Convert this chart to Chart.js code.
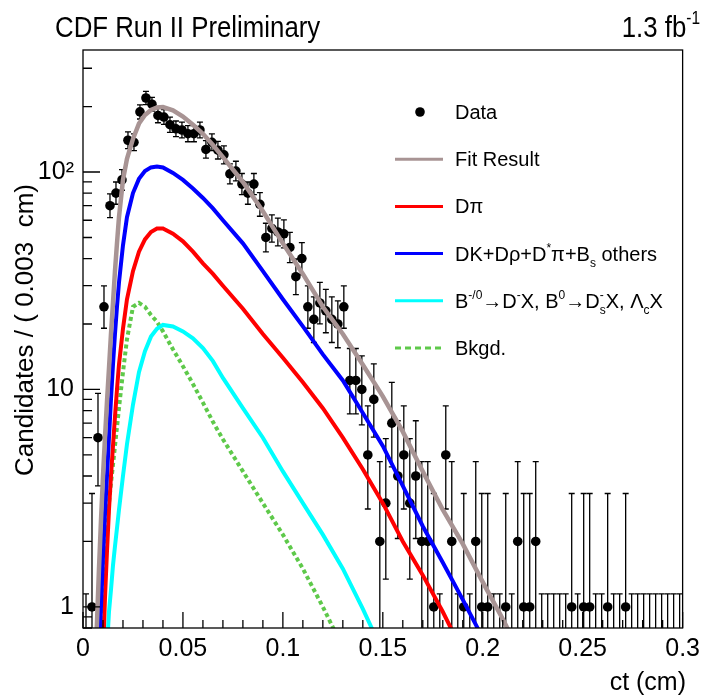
<!DOCTYPE html>
<html>
<head>
<meta charset="utf-8">
<script src="https://cdn.jsdelivr.net/npm/chart.js@4.4.0/dist/chart.umd.min.js"></script>
<style>
  html, body { margin: 0; padding: 0; background: #fff; }
  canvas { display: block; }
</style>
</head>
<body>
<canvas id="ctPlot" width="706" height="698"></canvas>
<script>
// histogram: 100 bins of 0.003 cm between 0 and 0.3 cm
const binWidth = 0.003;
const counts = [
  0, 1, 6, 24, 70, 80, 92, 140, 137, 189,
  219, 205, 182, 179, 165, 158, 156, 150, 150, 156,
  127, 137, 126, 120, 98, 101, 88, 80, 88, 71,
  50, 55, 53, 52, 45, 33, 40, 24, 21, 25,
  23, 21, 20, 24, 11, 11, 10, 5, 9, 2,
  3, 7, 4, 5, 3, 4, 2, 2, 1, 0,
  5, 2, 0, 1, 0, 2, 1, 1, 0, 0,
  1, 0, 2, 1, 1, 2, 0, 0, 0, 0,
  0, 1, 0, 1, 1, 0, 0, 1, 0, 0,
  1, 0, 0, 0, 0, 0, 0, 0, 0, 0
];
const binCenters = counts.map((_, i) => (i + 0.5) * binWidth);

// fit components
const curveCt = [0.006, 0.007, 0.008, 0.009, 0.010, 0.011, 0.012, 0.013, 0.014, 0.015, 0.016, 0.017, 0.018,
  0.020, 0.022, 0.025, 0.028, 0.031, 0.034, 0.037, 0.040,
  0.045, 0.050, 0.055, 0.060, 0.065, 0.070,
  0.080, 0.090, 0.100, 0.110, 0.120, 0.130, 0.140, 0.150, 0.160, 0.170, 0.180, 0.190, 0.200, 0.210, 0.220];
const fitVals = [0.5, 0.85, 1.5, 2.5, 4.0, 6.0, 8.8, 12.5, 18, 25, 35, 47, 62,
  92, 115, 142, 167, 183, 193, 198, 199,
  192, 180, 165, 150, 133, 117,
  90, 66, 47, 34, 24, 18, 13, 9.3, 6.4, 4.2, 2.8, 1.95, 1.3, 0.88, 0.58];
const dpiVals = [null, null, null, null, 0.6, 1.1, 1.8, 2.8, 4.0, 5.5, 7.5, 10, 13,
  19, 26, 35, 43, 49, 53, 55, 55,
  52, 48, 43, 38, 34, 30,
  23.5, 18, 14, 10.8, 8.2, 6.0, 4.3, 3.0, 2.0, 1.4, 0.95, 0.62, null, null, null];
const dkVals = [null, null, 0.6, 1.0, 1.7, 2.7, 4.0, 6.0, 9, 13, 18, 24, 31,
  46, 62, 80, 93, 101, 105, 106, 105,
  99, 92, 84, 76, 68, 60,
  47, 35, 26, 19.5, 14.5, 11, 7.8, 5.5, 3.6, 2.35, 1.6, 1.08, 0.72, null, null];
const bxVals = [null, null, null, null, null, null, 0.65, 0.95, 1.2, 1.55, 1.9, 2.3, 2.8,
  4.0, 5.6, 8.5, 12, 15, 17.5, 19, 19.8,
  19.5, 18.5, 17.2, 15.5, 13.5, 11.3,
  8.2, 6.0, 4.2, 3.0, 2.15, 1.5, 0.98, 0.62, null, null, null, null, null, null, null];
const bkgVals = [null, null, 0.6, 0.95, 1.3, 1.75, 2.3, 3.0, 3.7, 4.5, 5.5, 6.7, 8.2,
  12, 17, 24, 25, 24, 22, 20.5, 18.5,
  15.3, 12.8, 10.6, 8.7, 7.1, 5.9,
  4.2, 3.0, 2.15, 1.5, 1.0, 0.65, null, null, null, null, null, null, null, null, null];

const xTicks = [0, 0.05, 0.1, 0.15, 0.2, 0.25, 0.3];
const xTickLabels = ['0', '0.05', '0.1', '0.15', '0.2', '0.25', '0.3'];
const yTicks = [1, 10, 100];
const yTickLabels = ['1', '10', '10\u00b2'];

const FONT = "'Liberation Sans', Arial, Helvetica, sans-serif";
const colFit = '#a89494';
const colDpi = '#ff0000';
const colDk = '#0000ff';
const colBx = '#00ffff';
const colBkg = '#5ec94a';

// legend rows, rich text parts: strings or {sup, sub}
const legendRows = [
  { kind: 'marker', parts: ['Data'] },
  { kind: 'line', color: colFit, parts: ['Fit Result'] },
  { kind: 'line', color: colDpi, parts: ['D\u03c0'] },
  { kind: 'line', color: colDk, parts: ['DK+D\u03c1+D', { sup: '*' }, '\u03c0+B', { sub: 's' }, ' others'] },
  { kind: 'line', color: colBx, parts: ['B', { sup: '-/0' }, '\u2192D', { sup: '-' }, 'X, B', { sup: '0' }, '\u2192D', { sub: 's', sup: '-' }, 'X, \u039b', { sub: 'c' }, 'X'] },
  { kind: 'dash', color: colBkg, parts: ['Bkgd.'] }
];

function curve(vals) {
  return curveCt.map((c, i) => ({ x: c, y: vals[i] }));
}

function richWidth(ctx, parts, size) {
  let w = 0;
  parts.forEach(p => {
    if (typeof p === 'string') {
      ctx.font = size + 'px ' + FONT;
      w += ctx.measureText(p).width;
    } else {
      ctx.font = Math.round(size * 0.6) + 'px ' + FONT;
      w += Math.max(p.sup ? ctx.measureText(p.sup).width : 0, p.sub ? ctx.measureText(p.sub).width : 0);
    }
  });
  return w;
}

function drawRich(ctx, parts, x, y, size) {
  let cx = x;
  ctx.textAlign = 'left';
  ctx.textBaseline = 'alphabetic';
  parts.forEach(p => {
    if (typeof p === 'string') {
      ctx.font = size + 'px ' + FONT;
      ctx.fillText(p, cx, y);
      cx += ctx.measureText(p).width;
    } else {
      ctx.font = Math.round(size * 0.6) + 'px ' + FONT;
      let w = 0;
      if (p.sup) { ctx.fillText(p.sup, cx, y - size * 0.45); w = ctx.measureText(p.sup).width; }
      if (p.sub) { ctx.fillText(p.sub, cx, y + size * 0.3); w = Math.max(w, ctx.measureText(p.sub).width); }
      cx += w;
    }
  });
}

// narrow, tall header text like the ROOT original
function drawHeader(ctx, parts, x, y, size, squeeze, alignRight) {
  const w = richWidth(ctx, parts, size) * squeeze;
  ctx.save();
  ctx.translate(alignRight ? x - w : x, y);
  ctx.scale(squeeze, 1);
  drawRich(ctx, parts, 0, 0, size);
  ctx.restore();
}

const rootStyle = {
  id: 'rootStyle',
  beforeDatasetsDraw(chart) {
    // Poisson error bars for the data
    const { ctx, chartArea: a, scales: { x, y } } = chart;
    ctx.save();
    ctx.beginPath();
    ctx.rect(a.left, a.top, a.right - a.left, a.bottom - a.top);
    ctx.clip();
    ctx.strokeStyle = '#000';
    ctx.lineWidth = 1.3;
    counts.forEach((n, i) => {
      const px = x.getPixelForValue(binCenters[i]);
      const hi = n === 0 ? 1.148 : n + Math.sqrt(n + 0.75) + 1;
      const lo = n === 0 ? 0 : n - Math.sqrt(n - 0.25);
      const yHi = y.getPixelForValue(hi);
      const loIn = lo > y.min;
      const yLo = loIn ? y.getPixelForValue(lo) : a.bottom + 2;
      ctx.beginPath();
      ctx.moveTo(px, yLo);
      ctx.lineTo(px, yHi);
      ctx.moveTo(px - 3, yHi);
      ctx.lineTo(px + 3, yHi);
      if (loIn) {
        ctx.moveTo(px - 3, yLo);
        ctx.lineTo(px + 3, yLo);
      }
      ctx.stroke();
    });
    ctx.restore();
  },
  afterDatasetsDraw(chart) {
    // frame and inward ticks
    const { ctx, chartArea: a, scales: { x, y } } = chart;
    ctx.save();
    ctx.strokeStyle = '#000';
    ctx.lineWidth = 1.3;
    ctx.strokeRect(a.left, a.top, a.right - a.left, a.bottom - a.top);
    ctx.beginPath();
    for (let k = 0; k <= 30; k++) {
      const px = x.getPixelForValue(k * 0.01);
      ctx.moveTo(px, a.bottom);
      ctx.lineTo(px, a.bottom - (k % 5 === 0 ? 16 : 8));
    }
    for (let d = -1; d <= 2; d++) {
      for (let m = 1; m <= 9; m++) {
        const v = m * Math.pow(10, d);
        if (v < y.min || v > y.max) continue;
        const py = y.getPixelForValue(v);
        ctx.moveTo(a.left, py);
        ctx.lineTo(a.left + (m === 1 ? 17 : 9), py);
      }
    }
    ctx.stroke();
    ctx.restore();
  },
  afterDraw(chart) {
    const { ctx } = chart;
    ctx.save();
    ctx.fillStyle = '#000';

    // header
    drawHeader(ctx, ['CDF Run II Preliminary'], 55, 37, 30, 0.86, false);
    drawHeader(ctx, ['1.3 fb', { sup: '-1' }], 700, 37, 30, 0.86, true);

    // axis titles
    ctx.font = '25px ' + FONT;
    ctx.textAlign = 'right';
    ctx.textBaseline = 'alphabetic';
    ctx.fillText('ct (cm)', 686, 690);
    ctx.save();
    ctx.translate(33, 330);
    ctx.rotate(-Math.PI / 2);
    ctx.textAlign = 'center';
    ctx.font = '26px ' + FONT;
    ctx.fillText('Candidates / ( 0.003  cm)', 0, 0);
    ctx.restore();

    // legend
    legendRows.forEach((row, i) => {
      const yy = 112 + i * 47.2;
      if (row.kind === 'marker') {
        ctx.beginPath();
        ctx.arc(420, yy, 4.8, 0, Math.PI * 2);
        ctx.fill();
      } else {
        ctx.save();
        ctx.strokeStyle = row.color;
        ctx.lineWidth = 3;
        if (row.kind === 'dash') ctx.setLineDash([6, 4]);
        ctx.beginPath();
        ctx.moveTo(395, yy);
        ctx.lineTo(443, yy);
        ctx.stroke();
        ctx.restore();
      }
      drawRich(ctx, row.parts, 455, yy + 7, 20);
    });
    ctx.restore();
  }
};

const lineSet = (label, vals, color, order, extra) => Object.assign({
  type: 'line',
  label: label,
  data: curve(vals),
  borderColor: color,
  borderWidth: 4,
  pointRadius: 0,
  fill: false,
  tension: 0,
  spanGaps: false,
  clip: 0,
  order: order
}, extra || {});

new Chart(document.getElementById('ctPlot'), {
  type: 'scatter',
  data: {
    datasets: [
      {
        type: 'scatter',
        label: 'Data',
        data: binCenters.map((c, i) => ({ x: c, y: counts[i] })).filter(p => p.y > 0),
        pointRadius: 4.8,
        pointBackgroundColor: '#000',
        pointBorderWidth: 0,
        clip: 0,
        order: 10
      },
      lineSet('Bkgd.', bkgVals, colBkg, 5, { borderDash: [4, 3] }),
      lineSet('B other', bxVals, colBx, 4),
      lineSet('D pi', dpiVals, colDpi, 3),
      lineSet('DK others', dkVals, colDk, 2),
      lineSet('Fit Result', fitVals, colFit, 1, { borderWidth: 4.5 })
    ]
  },
  options: {
    responsive: false,
    animation: false,
    devicePixelRatio: 1,
    layout: { padding: { top: 50, right: 20, left: 0, bottom: 0 } },
    plugins: { legend: { display: false }, tooltip: { enabled: false } },
    scales: {
      x: {
        type: 'linear',
        min: 0,
        max: 0.3,
        grid: { display: false, drawTicks: false },
        border: { display: false },
        afterBuildTicks: s => { s.ticks = xTicks.map(v => ({ value: v })); },
        afterFit: s => { s.height = 70; },
        ticks: {
          autoSkip: false,
          maxRotation: 0,
          padding: 6,
          color: '#000',
          font: { family: FONT, size: 25 },
          callback: v => xTickLabels[xTicks.indexOf(v)]
        }
      },
      y: {
        type: 'logarithmic',
        min: 0.8,
        max: 364,
        grid: { display: false, drawTicks: false },
        border: { display: false },
        afterBuildTicks: s => { s.ticks = yTicks.map(v => ({ value: v })); },
        afterFit: s => { s.width = 83; },
        ticks: {
          autoSkip: false,
          padding: 9,
          color: '#000',
          font: { family: FONT, size: 25 },
          callback: v => yTickLabels[yTicks.indexOf(v)]
        }
      }
    }
  },
  plugins: [rootStyle]
});
</script>
</body>
</html>
